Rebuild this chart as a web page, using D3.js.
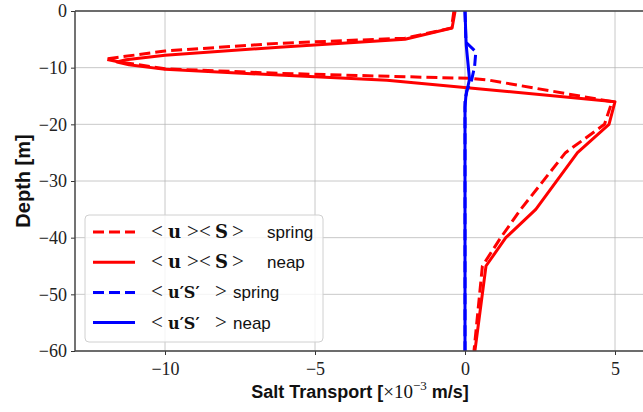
<!DOCTYPE html>
<html>
<head>
<meta charset="utf-8">
<script src="https://cdn.jsdelivr.net/npm/d3@7"></script>
<style>
  body { margin: 0; background: #fff; }
  svg { display: block; }
</style>
</head>
<body>
<div id="chart"></div>
<script>
// values: transport [x1e-3 m/s] at depth [m]
const springMeanDepth = [0, -3, -4.8, -5.7, -7.06, -8.2, -8.5, -8.9, -10.2, -11.0, -11.6, -11.9, -12.2, -16, -20, -25, -35, -40, -45, -60];
const springMeanValue = [-0.37, -0.45, -2.0, -6.2, -10, -11.6, -12.0, -11.6, -10, -6.2, -2.0, 0.24, 0.8, 4.9, 4.65, 3.35, 1.86, 1.19, 0.58, 0.3];

const neapMeanDepth = [0, -3, -5, -6.4, -7.8, -8.6, -9.0, -9.5, -10.3, -11.3, -12.2, -16, -20, -25, -35, -40, -45, -60];
const neapMeanValue = [-0.33, -0.43, -2.0, -6.2, -10, -11.3, -11.6, -11.2, -10, -6.2, -2.6, 5.0, 4.8, 3.75, 2.36, 1.36, 0.7, 0.33];

const springFluxDepth = [0, -5.5, -7.2, -9.8, -12.2, -14, -16, -60];
const springFluxValue = [0, 0.03, 0.36, 0.32, 0.22, 0.06, 0, 0];

const neapFluxDepth = [0, -6, -12, -15, -17, -60];
const neapFluxValue = [0, 0.04, 0.15, 0.03, 0, 0];

const xTicks = [-10, -5, 0, 5];
const yTicks = [0, -10, -20, -30, -40, -50, -60];

const meanSymbols = ["<", "u", ">", "<", "S", ">"];
const fluxSymbols = ["<", "u\u2032S\u2032", ">"];

const series = [
  { math: meanSymbols, word: "spring", depth: springMeanDepth, value: springMeanValue, color: "#ff0000", dash: "11,5" },
  { math: meanSymbols, word: "neap", depth: neapMeanDepth, value: neapMeanValue, color: "#ff0000", dash: null },
  { math: fluxSymbols, word: "spring", depth: springFluxDepth, value: springFluxValue, color: "#0000ff", dash: "11,5" },
  { math: fluxSymbols, word: "neap", depth: neapFluxDepth, value: neapFluxValue, color: "#0000ff", dash: null }
];

var width = 643, height = 412;
var margin = { left: 75, top: 11, right: -2, bottom: 61 };
var innerWidth = width - margin.left - margin.right;
var innerHeight = height - margin.top - margin.bottom;

var serif = "'Liberation Serif', 'DejaVu Serif', serif";
var boldSerif = "'DejaVu Serif', 'Liberation Serif', serif";
var sans = "'Liberation Sans', 'DejaVu Sans', sans-serif";

var svg = d3.select("#chart").append("svg")
  .attr("width", width)
  .attr("height", height);

var x = d3.scaleLinear().domain([-13, 6]).range([0, innerWidth]);
var y = d3.scaleLinear().domain([-60, 0]).range([innerHeight, 0]);

var g = svg.append("g").attr("transform", "translate(" + margin.left + "," + margin.top + ")");

g.append("clipPath").attr("id", "clip")
  .append("rect").attr("width", innerWidth).attr("height", innerHeight);

// grid
g.append("g").selectAll("line").data(xTicks).enter().append("line")
  .attr("x1", d => x(d)).attr("x2", d => x(d))
  .attr("y1", 0).attr("y2", innerHeight)
  .attr("stroke", "#b0b0b0").attr("stroke-opacity", 0.7).attr("stroke-width", 1);
g.append("g").selectAll("line").data(yTicks).enter().append("line")
  .attr("y1", d => y(d)).attr("y2", d => y(d))
  .attr("x1", 0).attr("x2", innerWidth)
  .attr("stroke", "#b0b0b0").attr("stroke-opacity", 0.7).attr("stroke-width", 1);

// curves
var line = d3.line().x(d => x(d[0])).y(d => y(d[1]));
g.append("g").attr("clip-path", "url(#clip)")
  .selectAll("path").data(series).enter().append("path")
  .attr("d", s => line(s.value.map((v, i) => [v, s.depth[i]])))
  .attr("fill", "none")
  .attr("stroke", s => s.color)
  .attr("stroke-width", 3)
  .attr("stroke-dasharray", s => s.dash)
  .attr("stroke-linejoin", "round");

// axes
var fmt = d => d < 0 ? "\u2212" + Math.abs(d) : d;
var xAxis = d3.axisBottom(x).tickValues(xTicks).tickSize(4).tickPadding(7).tickFormat(fmt);
var yAxis = d3.axisLeft(y).tickValues(yTicks).tickSize(4).tickPadding(4).tickFormat(fmt);

var xAxisG = g.append("g").attr("transform", "translate(0," + innerHeight + ")").call(xAxis);
var yAxisG = g.append("g").call(yAxis);
[xAxisG, yAxisG].forEach(a => {
  a.select(".domain").remove();
  a.selectAll(".tick line").attr("stroke", "#333").attr("stroke-width", 1);
  a.selectAll("text").attr("font-family", serif).attr("font-size", 18).attr("fill", "#222");
});

// spines (right spine falls off the picture)
g.append("line").attr("x1", 0).attr("x2", innerWidth).attr("y1", 0).attr("y2", 0)
  .attr("stroke", "#444").attr("stroke-width", 1.5);
g.append("line").attr("x1", 0).attr("x2", innerWidth).attr("y1", innerHeight).attr("y2", innerHeight)
  .attr("stroke", "#444").attr("stroke-width", 1.5);
g.append("line").attr("x1", 0).attr("x2", 0).attr("y1", 0).attr("y2", innerHeight)
  .attr("stroke", "#444").attr("stroke-width", 1.5);

// axis labels
var xLabel = svg.append("text")
  .attr("x", 360)
  .attr("y", 398)
  .attr("text-anchor", "middle")
  .attr("fill", "#111")
  .attr("xml:space", "preserve");
xLabel.append("tspan").attr("font-family", sans).attr("font-weight", "bold").attr("font-size", 18)
  .text("Salt Transport [");
xLabel.append("tspan").attr("font-family", serif).attr("font-size", 19).text("\u00d710");
xLabel.append("tspan").attr("font-family", serif).attr("font-size", 13).attr("dy", -8).text("\u22123");
xLabel.append("tspan").attr("font-family", sans).attr("font-weight", "bold").attr("font-size", 18)
  .attr("dy", 8).text(" m/s]");

svg.append("text")
  .attr("transform", "translate(30," + (margin.top + innerHeight / 2) + ") rotate(-90)")
  .attr("text-anchor", "middle")
  .attr("font-family", sans).attr("font-weight", "bold").attr("font-size", 20)
  .attr("fill", "#111")
  .text("Depth [m]");

// legend
var legend = svg.append("g").attr("transform", "translate(85,215)");
legend.append("rect")
  .attr("width", 238).attr("height", 127).attr("rx", 4)
  .attr("fill", "#fff").attr("fill-opacity", 0.8)
  .attr("stroke", "#d0d0d0").attr("stroke-width", 1);

// glyph positions inside a legend row (TeX-like relation spacing)
var meanX = [66, 83, 102, 114, 130, 147], meanWordX = 182;
var fluxX = [66, 83, 130], fluxWordX = 148;

var rows = legend.selectAll(".row").data(series).enter().append("g")
  .attr("class", "row")
  .attr("transform", (d, i) => "translate(0," + (17 + i * 30.2) + ")");

rows.append("line")
  .attr("x1", 8).attr("x2", 50)
  .attr("stroke", d => d.color).attr("stroke-width", 3)
  .attr("stroke-dasharray", d => d.dash);

rows.each(function(d) {
  var row = d3.select(this);
  var isMean = d.math.length > 3;
  var xs = isMean ? meanX : fluxX;
  d.math.forEach((sym, j) => {
    var rel = sym === "<" || sym === ">";
    row.append("text")
      .attr("x", xs[j]).attr("y", 6)
      .attr("font-family", rel ? serif : boldSerif)
      .attr("font-size", rel ? 21 : (isMean ? 18 : 16))
      .attr("font-weight", rel ? "normal" : "bold")
      .attr("fill", "#111")
      .text(sym);
  });
  row.append("text")
    .attr("x", isMean ? meanWordX : fluxWordX).attr("y", 6)
    .attr("font-family", sans).attr("font-size", 17).attr("fill", "#111")
    .text(d.word);
});
</script>
</body>
</html>
